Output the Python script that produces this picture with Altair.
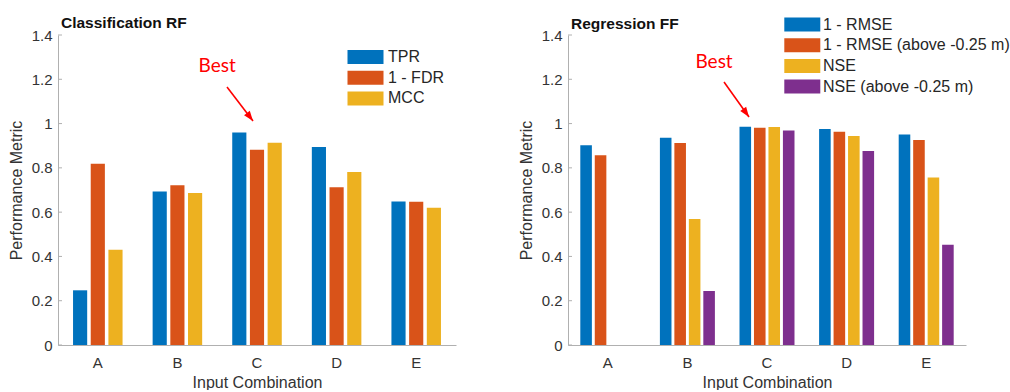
import altair as alt
import pandas as pd

categories = ["A", "B", "C", "D", "E"]

clf_title = "Classification RF"
clf_series = ["TPR", "1 - FDR", "MCC"]
clf_tpr = [0.247, 0.693, 0.960, 0.894, 0.648]
clf_fdr = [0.818, 0.721, 0.882, 0.712, 0.647]
clf_mcc = [0.430, 0.686, 0.913, 0.781, 0.620]

reg_title = "Regression FF"
reg_series = ["1 - RMSE", "1 - RMSE (above -0.25 m)", "NSE", "NSE (above -0.25 m)"]
reg_rmse = [0.902, 0.936, 0.986, 0.975, 0.951]
reg_rmse_above = [0.857, 0.912, 0.981, 0.963, 0.926]
reg_nse = [None, 0.569, 0.984, 0.944, 0.756]
reg_nse_above = [None, 0.244, 0.969, 0.876, 0.453]

colors = ["#0072BD", "#D95319", "#EDB120", "#7E2F8E"]
y_ticks = [0, 0.2, 0.4, 0.6, 0.8, 1.0, 1.2, 1.4]

# annotation "Best" (data units: x in category index 1..5, y in metric units)
clf_best_text = (2.5, 1.262)
clf_arrow = (2.623, 1.165, 2.95, 1.012)
reg_best_text = (2.335, 1.276)
reg_arrow = (2.46, 1.188, 2.774, 1.03)

W, H = 398, 310
LEG_SYMBOL = "M-1,-0.39L1,-0.39L1,0.39L-1,0.39Z"
HEAD = "M0,0L-0.36,-1L0.36,-1Z"
YDOM = [0, 1.4]


def panel(title, title_y, series, values, leg_sym_x, leg_lab_x, leg_y0, best_text, arrow, angle):
    rows = []
    for s, vals in zip(series, values):
        for c, v in zip(categories, vals):
            if v is not None:
                rows.append({"Input": c, "Series": s, "Value": v})
    df = pd.DataFrame(rows)
    cscale = alt.Scale(domain=series, range=colors[:len(series)])

    bars = alt.Chart(df).mark_bar().encode(
        x=alt.X("Input:N", sort=categories,
                scale=alt.Scale(domain=categories, paddingInner=0, paddingOuter=0),
                axis=alt.Axis(title="Input Combination", labelAngle=0, ticks=False,
                              labelPadding=10, titlePadding=4)),
        xOffset=alt.XOffset("Series:N", sort=series,
                            scale=alt.Scale(domain=series, paddingInner=0.2, paddingOuter=0.85)),
        y=alt.Y("Value:Q", scale=alt.Scale(domain=YDOM, nice=False, zero=True),
                axis=alt.Axis(title="Performance Metric", values=y_ticks, format="~g",
                              ticks=False, grid=False, labelPadding=6, titlePadding=7)),
        color=alt.Color("Series:N", sort=series, scale=cscale, legend=None),
    )

    ys = alt.Scale(domain=YDOM, nice=False, zero=True)
    ticks_df = pd.DataFrame({"Value": y_ticks})
    yt = alt.Chart(ticks_df).mark_rule(color="#b0b0b0", strokeWidth=1).encode(
        y=alt.Y("Value:Q", scale=ys, axis=None), x=alt.value(0), x2=alt.value(4))

    # legend drawn as marks
    ldf = pd.DataFrame({"Series": series})
    lys = alt.Scale(type="point", domain=series, padding=0,
                    range=[leg_y0, leg_y0 + 20.7 * (len(series) - 1)])
    leg_sym = alt.Chart(ldf).mark_point(shape=LEG_SYMBOL, filled=True, size=1296,
                                        opacity=1, strokeWidth=0).encode(
        x=alt.value(leg_sym_x), y=alt.Y("Series:N", scale=lys, axis=None),
        color=alt.Color("Series:N", sort=series, scale=cscale, legend=None))
    leg_txt = alt.Chart(ldf).mark_text(font="Liberation Sans", fontSize=16, color="#262626",
                                       align="left", baseline="middle").encode(
        x=alt.value(leg_lab_x), y=alt.Y("Series:N", scale=lys, axis=None), text="Series:N")

    ttl = alt.Chart(pd.DataFrame({"t": [title]})).mark_text(
        font="Liberation Sans", fontSize=15.5, fontWeight="bold", color="#111111",
        align="left", baseline="alphabetic").encode(
        x=alt.value(3), y=alt.value(title_y), text="t:N")

    xs = alt.Scale(domain=[0.5, 5.5], nice=False, zero=False)
    tdf = pd.DataFrame({"ax": [best_text[0]], "Value": [best_text[1]], "label": ["Best"]})
    txt = alt.Chart(tdf).mark_text(color="#ff0000", font="Lato", fontSize=19,
                                   align="center", baseline="middle").encode(
        x=alt.X("ax:Q", scale=xs, axis=None), y=alt.Y("Value:Q", scale=ys, axis=None),
        text="label:N")

    adf = pd.DataFrame({"ax": [arrow[0]], "Value": [arrow[1]],
                        "ax2": [arrow[2]], "Value2": [arrow[3]]})
    line = alt.Chart(adf).mark_rule(color="#ff0000", strokeWidth=1.6).encode(
        x=alt.X("ax:Q", scale=xs, axis=None), y=alt.Y("Value:Q", scale=ys, axis=None),
        x2="ax2:Q", y2="Value2:Q")
    head = alt.Chart(adf).mark_point(shape=HEAD, filled=True, color="#ff0000",
                                     size=400, opacity=1, angle=angle).encode(
        x=alt.X("ax2:Q", scale=xs, axis=None), y=alt.Y("Value2:Q", scale=ys, axis=None))

    return alt.layer(bars, yt, leg_sym, leg_txt, ttl, line, head, txt).resolve_scale(
        x="independent", y="independent").properties(width=W, height=H)


left = panel(clf_title, -7.5, clf_series, [clf_tpr, clf_fdr, clf_mcc],
             307.5, 330, 22, clf_best_text, clf_arrow, 322.6)
right = panel(reg_title, -6.2, reg_series, [reg_rmse, reg_rmse_above, reg_nse, reg_nse_above],
              234.3, 255, -10.5, reg_best_text, reg_arrow, 324.5)

chart = alt.hconcat(left, right, spacing=62).resolve_scale(
    color="independent", xOffset="independent", x="independent", y="independent"
).properties(
    padding={"left": 8, "top": 15, "right": 0, "bottom": 0}
).configure(font="Liberation Sans").configure_view(stroke=None).configure_axis(
    labelFontSize=15, titleFontSize=16, titleFontWeight="normal",
    labelColor="#333333", titleColor="#333333", domainColor="#b0b0b0",
    labelFont="Liberation Sans", titleFont="Liberation Sans"
)

chart.save("out.html", embed_options={"renderer": "svg", "actions": False})
